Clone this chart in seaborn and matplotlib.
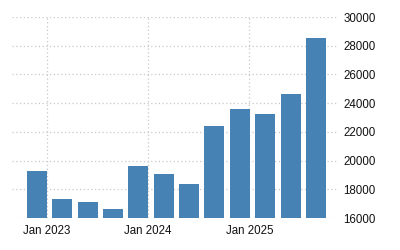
import matplotlib
matplotlib.use("Agg")
import matplotlib.pyplot as plt
import seaborn as sns
import pandas as pd

quarters = ["Q4 2022", "Q1 2023", "Q2 2023", "Q3 2023", "Q4 2023", "Q1 2024",
            "Q2 2024", "Q3 2024", "Q4 2024", "Q1 2025", "Q2 2025", "Q3 2025"]
values = [19280, 17320, 17110, 16630, 19620, 19060, 18370, 22400, 23590, 23240, 24640, 28530]
tick_labels = ["Jan 2023", "Jan 2024", "Jan 2025"]
y_ticks = [16000, 18000, 20000, 22000, 24000, 26000, 28000, 30000]

df = pd.DataFrame({"quarter": quarters, "value": values})

sns.set_style("white")
plt.rcParams['font.family'] = ['Liberation Sans', 'DejaVu Sans']

fig = plt.figure(figsize=(4, 2.5), dpi=100)
ax = fig.add_axes([0.03, 0.128, 0.815, 0.804])

sns.barplot(data=df, x="quarter", y="value", order=quarters, color="#4682b4",
            width=0.79, saturation=1, linewidth=0, ax=ax, zorder=3)

ax.set_ylim(16000, 30000)
ax.set_xlim(-0.98, 11.87)
ax.set_yticks(y_ticks)
ax.set_yticklabels([str(t) for t in y_ticks])
ax.yaxis.tick_right()
ax.set_xticks([0.38, 4.38, 8.38])
ax.set_xticklabels(tick_labels)
ax.set_xlabel("")
ax.set_ylabel("")

ax.grid(True, axis="both", color="#c8c8c8", linestyle=(0, (1, 2)), linewidth=0.9, zorder=0)
for s in ax.spines.values():
    s.set_visible(False)
ax.tick_params(axis="y", length=0, pad=4, labelsize=8.3, labelcolor="#111111")
ax.tick_params(axis="x", length=3, width=0.8, color="#c8c8c8", pad=2, labelsize=8.3, labelcolor="#111111")

fig.savefig("out.png", dpi=100)
